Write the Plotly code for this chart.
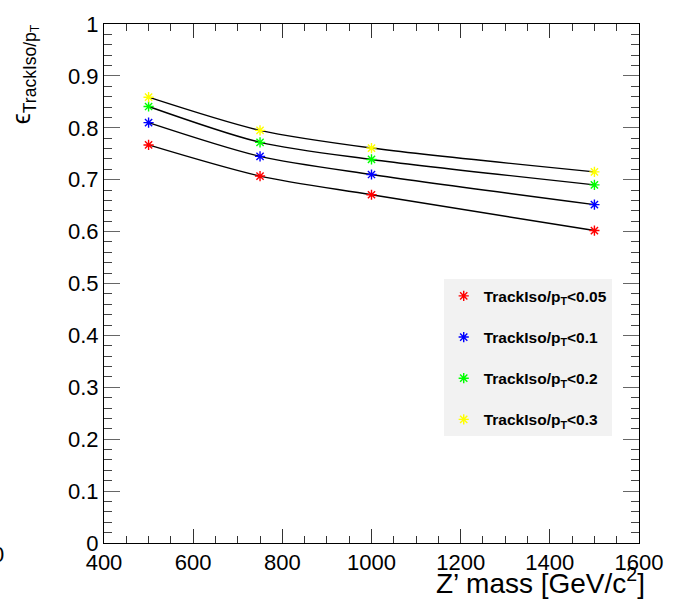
import plotly.graph_objects as go

# Z' mass points (GeV/c^2)
mass = [500, 750, 1000, 1500]

# Track isolation efficiency for each TrackIso/pT cut
eff_005 = [0.767, 0.707, 0.671, 0.602]
eff_01 = [0.810, 0.745, 0.710, 0.652]
eff_02 = [0.841, 0.772, 0.739, 0.690]
eff_03 = [0.859, 0.795, 0.761, 0.715]

series = [
    ("TrackIso/p<sub>T</sub>&lt;0.05", eff_005, "#ff0000"),
    ("TrackIso/p<sub>T</sub>&lt;0.1", eff_01, "#0000ff"),
    ("TrackIso/p<sub>T</sub>&lt;0.2", eff_02, "#00ff00"),
    ("TrackIso/p<sub>T</sub>&lt;0.3", eff_03, "#ffff00"),
]

x_ticks = [400, 600, 800, 1000, 1200, 1400, 1600]
y_ticks = [0, 0.1, 0.2, 0.3, 0.4, 0.5, 0.6, 0.7, 0.8, 0.9, 1]
y_labels = ["0", "0.1", "0.2", "0.3", "0.4", "0.5", "0.6", "0.7", "0.8", "0.9", "1"]

FONT = "Liberation Sans, Arial, Helvetica, sans-serif"

fig = go.Figure()

for i, (name, vals, col) in enumerate(series):
    # smooth curve through the points
    fig.add_trace(go.Scatter(
        x=mass, y=vals, mode="lines",
        line=dict(color="black", width=1.4, shape="spline", smoothing=0.8),
        showlegend=False, hoverinfo="skip",
    ))
    fig.add_trace(go.Scatter(
        x=mass, y=vals, mode="markers", name="<b>" + name + "</b>",
        legendgroup=f"g{i}",
        marker=dict(symbol="asterisk-open", size=8.5, color=col, line=dict(color=col, width=1.4)),
    ))

fig.update_layout(
    width=675, height=605,
    margin=dict(l=104, r=28, t=22, b=62, pad=0),
    paper_bgcolor="white", plot_bgcolor="white",
    font=dict(family=FONT, color="black", size=22),
    showlegend=True,
    legend=dict(
        x=0.635, y=0.508, xanchor="left", yanchor="top",
        bgcolor="#f2f2f2", borderwidth=0,
        font=dict(family=FONT, size=15.5, color="black"),
        tracegroupgap=18, itemwidth=30,
        entrywidth=162,
    ),
)

fig.update_xaxes(
    range=[400, 1600], tickvals=x_ticks, ticktext=[str(v) for v in x_ticks],
    showgrid=False, zeroline=False,
    showline=True, linecolor="black", linewidth=1, mirror="ticks",
    ticks="inside", ticklen=14, tickwidth=1, tickcolor="#333",
    tickfont=dict(size=22),
    minor=dict(dtick=50, ticks="inside", ticklen=7, tickcolor="#333", tickwidth=1, showgrid=False),
)
fig.update_yaxes(
    range=[0, 1], tickvals=y_ticks, ticktext=y_labels,
    showgrid=False, zeroline=False,
    showline=True, linecolor="black", linewidth=1, mirror="ticks",
    ticks="inside", ticklen=16, tickwidth=1, tickcolor="#666",
    tickfont=dict(size=22), ticklabelstandoff=0,
    minor=dict(dtick=0.02, ticks="inside", ticklen=8, tickcolor="#444", tickwidth=1, showgrid=False),
)

# axis titles
fig.add_annotation(
    text="Z\u2019 mass [GeV/c<sup>2</sup>]", xref="paper", yref="paper",
    x=1.0, y=-0.112, xanchor="right", yanchor="bottom", showarrow=False,
    xshift=8, font=dict(size=28, family=FONT),
)
fig.add_annotation(
    text="\u03f5<sub>TrackIso/p<sub>T</sub></sub>", xref="paper", yref="paper",
    x=-0.148, y=1.003, xanchor="center", yanchor="top", textangle=-90, showarrow=False,
    font=dict(size=25, family=FONT),
)
# clipped label at the left edge
fig.add_annotation(
    text="0", xref="paper", yref="paper",
    x=-0.183, y=-0.022, xanchor="right", yanchor="middle", showarrow=False,
    font=dict(size=22, family=FONT),
)

fig.write_html("out.html")
